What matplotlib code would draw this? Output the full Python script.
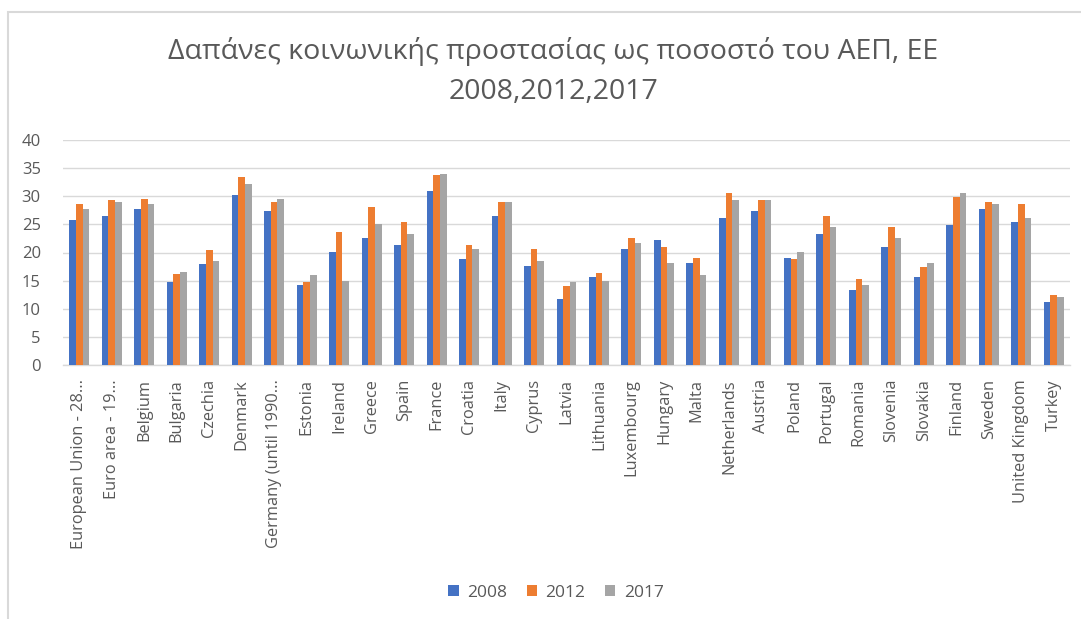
import matplotlib
matplotlib.use("Agg")
import matplotlib.pyplot as plt
import numpy as np
from matplotlib.patches import Rectangle

plt.rcParams['font.family'] = ['Open Sans', 'DejaVu Sans']

categories = [
    "European Union - 28...", "Euro area - 19...", "Belgium", "Bulgaria", "Czechia",
    "Denmark", "Germany (until 1990...", "Estonia", "Ireland", "Greece", "Spain",
    "France", "Croatia", "Italy", "Cyprus", "Latvia", "Lithuania", "Luxembourg",
    "Hungary", "Malta", "Netherlands", "Austria", "Poland", "Portugal", "Romania",
    "Slovenia", "Slovakia", "Finland", "Sweden", "United Kingdom", "Turkey",
]
series_names = ["2008", "2012", "2017"]
values_2008 = [25.8, 26.5, 27.7, 14.7, 17.9, 30.2, 27.4, 14.3, 20.1, 22.6, 21.4,
               30.9, 18.8, 26.5, 17.6, 11.8, 15.6, 20.7, 22.3, 18.2, 26.1, 27.4,
               19.1, 23.3, 13.4, 21.0, 15.6, 24.9, 27.7, 25.5, 11.2]
values_2012 = [28.6, 29.3, 29.6, 16.2, 20.4, 33.4, 29.0, 14.7, 23.6, 28.1, 25.5,
               33.7, 21.4, 29.0, 20.7, 14.0, 16.3, 22.6, 21.0, 19.1, 30.6, 29.3,
               18.8, 26.5, 15.3, 24.5, 17.5, 29.9, 29.0, 28.6, 12.4]
values_2017 = [27.7, 29.0, 28.6, 16.6, 18.5, 32.1, 29.6, 16.0, 15.0, 25.1, 23.3,
               34.0, 20.7, 29.0, 18.5, 14.7, 15.0, 21.7, 18.2, 16.0, 29.3, 29.3,
               20.1, 24.5, 14.3, 22.6, 18.2, 30.5, 28.6, 26.1, 12.1]
y_ticks = [0, 5, 10, 15, 20, 25, 30, 35, 40]

colors = ["#4472C4", "#ED7D31", "#A5A5A5"]
text_color = "#595959"

fig = plt.figure(figsize=(10.81, 6.19), dpi=100)

# chart frame
fig.patches.append(Rectangle((8 / 1081, -0.1), 1.2, 1 - 12 / 619 + 0.1,
                             transform=fig.transFigure, fill=False,
                             edgecolor="#D9D9D9", linewidth=1.5, zorder=0))

ax = fig.add_axes([63 / 1081, 1 - 365 / 619, (1070 - 63) / 1081, (365 - 140) / 619])

x = np.arange(len(categories))
width = 0.205
series = [values_2008, values_2012, values_2017]
for i, (name, vals, col) in enumerate(zip(series_names, series, colors)):
    ax.bar(x + (i - 1) * width, vals, width=width, color=col, label=name, zorder=3)

ax.set_xlim(-0.5, len(categories) - 0.5)
ax.set_ylim(0, 40)
ax.set_yticks(y_ticks)
ax.set_yticklabels([str(t) for t in y_ticks], fontsize=12, color=text_color)
ax.set_xticks(x)
ax.set_xticklabels(categories, rotation=90, fontsize=11.8, color=text_color,
                   va="top", ha="center")
ax.tick_params(axis="both", length=0)
ax.tick_params(axis="y", pad=16)
ax.tick_params(axis="x", pad=10)

ax.grid(axis="y", color="#D9D9D9", linewidth=1, zorder=0)
for side in ["top", "right", "left"]:
    ax.spines[side].set_visible(False)
ax.spines["bottom"].set_color("#D9D9D9")
ax.spines["bottom"].set_linewidth(1)

title_kw = dict(ha="center", va="center", fontsize=20.5, color=text_color)
fig.text(553 / 1081, 1 - 52 / 619,
         "Δαπάνες κοινωνικής προστασίας ως ποσοστό του ΑΕΠ, ΕΕ", **title_kw)
fig.text(553 / 1081, 1 - 92 / 619, "2008,2012,2017", **title_kw)

leg = fig.legend(loc="center", bbox_to_anchor=(556 / 1081, 1 - 593 / 619), ncol=3,
                 frameon=False, fontsize=12.5, handlelength=0.6, handleheight=0.6,
                 handletextpad=0.5, columnspacing=1.1)
for t in leg.get_texts():
    t.set_color(text_color)

fig.savefig("out.png", dpi=100)
